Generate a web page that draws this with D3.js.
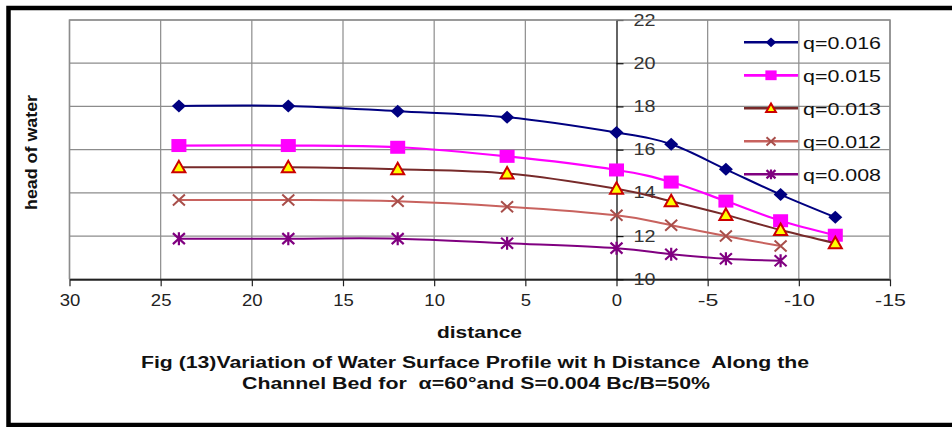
<!DOCTYPE html>
<html>
<head>
<meta charset="utf-8">
<script src="https://cdn.jsdelivr.net/npm/d3@7"></script>
<style>
  html, body { margin: 0; padding: 0; background: #fff; }
  svg { display: block; font-family: Arial, "Liberation Sans", sans-serif; }
  text { white-space: pre; }
</style>
</head>
<body>
<svg id="chart" width="952" height="427"></svg>
<script>
// ---- data ----
const distances = [24, 18, 12, 6, 0, -3, -6, -9, -12];
const seriesNames = ["q=0.016", "q=0.015", "q=0.013", "q=0.012", "q=0.008"];
const q016 = [18.02, 18.02, 17.78, 17.5, 16.79, 16.25, 15.09, 13.92, 12.87];
const q015 = [16.19, 16.19, 16.11, 15.69, 15.06, 14.5, 13.62, 12.71, 12.04];
const q013 = [15.18, 15.18, 15.09, 14.9, 14.19, 13.61, 12.98, 12.28, 11.67];
const q012 = [13.67, 13.67, 13.61, 13.36, 12.96, 12.5, 12.0, 11.54];
const q008 = [11.88, 11.88, 11.88, 11.67, 11.44, 11.16, 10.95, 10.86];
const xTicks = [30, 25, 20, 15, 10, 5, 0, -5, -10, -15];
const yTicks = [10, 12, 14, 16, 18, 20, 22];
const xLabel = "distance";
const yLabel = "head of water";
const titleLines = ["Fig (13)Variation of Water Surface Profile wit h Distance  Along the",
                    "Channel Bed for  \u03B1=60\u00B0and S=0.004 Bc/B=50%"];

const styles = [
  {line: "#000080", marker: "diamond", fill: "#000080", stroke: "#000080", lw: 2},
  {line: "#ff00ff", marker: "square", fill: "#ff00ff", stroke: "#ff00ff", lw: 2.2},
  {line: "#772a2a", marker: "triangle", fill: "#ffff00", stroke: "#cc0000", lw: 2},
  {line: "#c8625e", marker: "x", fill: "none", stroke: "#a84e4a", lw: 2},
  {line: "#800080", marker: "star", fill: "none", stroke: "#800080", lw: 2}
];
const allValues = [q016, q015, q013, q012, q008];

const svg = d3.select("#chart");
const pLeft = 69.5, pRight = 890, pTop = 20, pBottom = 279.3;
const x = d3.scaleLinear().domain([30, -15]).range([pLeft, pRight]);
const y = d3.scaleLinear().domain([10, 22]).range([pBottom, pTop]);

// outer frame
svg.append("rect").attr("x", 8.5).attr("y", 8).attr("width", 980).attr("height", 417)
  .attr("fill", "none").attr("stroke", "#000").attr("stroke-width", 4.5);

// grid
const grid = svg.append("g").attr("stroke", "#8c8c8c").attr("stroke-width", 1.2);
xTicks.filter(d => d !== 0).forEach(d => {
  grid.append("line").attr("x1", x(d)).attr("x2", x(d)).attr("y1", pTop).attr("y2", pBottom);
});
yTicks.forEach(d => {
  grid.append("line").attr("x1", pLeft).attr("x2", pRight).attr("y1", y(d)).attr("y2", y(d));
});

// x axis
const xAxis = svg.append("g").attr("transform", `translate(0,${pBottom})`)
  .call(d3.axisBottom(x).tickValues(xTicks).tickFormat(d => String(d))
    .tickSize(7).tickSizeOuter(0).tickPadding(5));
xAxis.select(".domain").attr("stroke", "#222").attr("stroke-width", 2);
xAxis.selectAll(".tick line").attr("stroke", "#222").attr("stroke-width", 1.2);
xAxis.selectAll(".tick text").attr("font-size", 16).attr("fill", "#222")
  .attr("font-family", "Arial, 'Liberation Sans', sans-serif")
  .attr("dy", "0.9em")
  .attr("textLength", d => String(d).length * 10.3)
  .attr("lengthAdjust", "spacingAndGlyphs");

// y axis at x=0
const yAxis = svg.append("g").attr("transform", `translate(${x(0)},0)`)
  .call(d3.axisRight(y).tickValues(yTicks).tickFormat(d => String(d))
    .tickSize(7).tickSizeOuter(0).tickPadding(10));
yAxis.select(".domain").attr("stroke", "#111").attr("stroke-width", 1.3);
yAxis.selectAll(".tick line").attr("stroke", "#111").attr("stroke-width", 1.2);
yAxis.selectAll(".tick text").attr("font-size", 16).attr("fill", "#333")
  .attr("font-family", "Arial, 'Liberation Sans', sans-serif")
  .attr("textLength", 22).attr("lengthAdjust", "spacingAndGlyphs");

// plot border (gray) top/left/right
svg.append("path")
  .attr("d", `M${pLeft},${pBottom}V${pTop}H${pRight}V${pBottom}`)
  .attr("fill", "none").attr("stroke", "#8c8c8c").attr("stroke-width", 1.5);

// marker drawing
function drawMarker(g, type, cx, cy, k, st) {
  if (type === "diamond") {
    g.append("path").attr("d", `M${cx},${cy - 6.5*k}L${cx + 7*k},${cy}L${cx},${cy + 6.5*k}L${cx - 7*k},${cy}Z`)
      .attr("fill", st.fill);
  } else if (type === "square") {
    g.append("rect").attr("x", cx - 7.5*k).attr("y", cy - 6.5*k).attr("width", 15*k).attr("height", 13*k)
      .attr("fill", st.fill);
  } else if (type === "triangle") {
    g.append("path").attr("d", `M${cx},${cy - 6.5*k}L${cx + 6.5*k},${cy + 5*k}L${cx - 6.5*k},${cy + 5*k}Z`)
      .attr("fill", st.fill).attr("stroke", st.stroke).attr("stroke-width", 2).attr("stroke-linejoin", "miter");
  } else if (type === "x") {
    g.append("path").attr("d", `M${cx - 6*k},${cy - 5.5*k}L${cx + 6*k},${cy + 5.5*k}M${cx + 6*k},${cy - 5.5*k}L${cx - 6*k},${cy + 5.5*k}`)
      .attr("stroke", st.stroke).attr("stroke-width", 2);
  } else if (type === "star") {
    g.append("path").attr("d", `M${cx - 6*k},${cy - 5.5*k}L${cx + 6*k},${cy + 5.5*k}M${cx + 6*k},${cy - 5.5*k}L${cx - 6*k},${cy + 5.5*k}M${cx},${cy - 6.5*k}L${cx},${cy + 6.5*k}`)
      .attr("stroke", st.stroke).attr("stroke-width", 2.2);
  }
}

// series
const line = d3.line().x(d => x(d[0])).y(d => y(d[1])).curve(d3.curveCatmullRom.alpha(0));
allValues.forEach((vals, i) => {
  const st = styles[i];
  const pts = vals.map((v, j) => [distances[j], v]);
  const g = svg.append("g");
  g.append("path").datum(pts).attr("d", line).attr("fill", "none")
    .attr("stroke", st.line).attr("stroke-width", st.lw);
  pts.forEach(p => drawMarker(g, st.marker, x(p[0]), y(p[1]), 1, st));
});

// legend
const legY0 = 42.3, legStep = 33;
seriesNames.forEach((name, i) => {
  const st = styles[i];
  const cy = legY0 + i * legStep;
  const g = svg.append("g");
  g.append("line").attr("x1", 744).attr("x2", 798).attr("y1", cy).attr("y2", cy)
    .attr("stroke", st.line).attr("stroke-width", st.lw + 0.6);
  drawMarker(g, st.marker, 771, cy, 0.75, st);
  g.append("text").attr("x", 803).attr("y", cy + 6.5).attr("font-size", 17).attr("fill", "#111")
    .attr("textLength", 78).attr("lengthAdjust", "spacingAndGlyphs").text(name);
});

// axis titles
svg.append("text").attr("x", 479.5).attr("y", 337.5).attr("text-anchor", "middle")
  .attr("font-size", 16.5).attr("font-weight", "bold").attr("fill", "#111")
  .attr("textLength", 85).attr("lengthAdjust", "spacingAndGlyphs").text(xLabel);
svg.append("text").attr("transform", "translate(36.5,152.5) rotate(-90)").attr("text-anchor", "middle")
  .attr("font-size", 16).attr("font-weight", "bold").attr("fill", "#111")
  .attr("textLength", 115).attr("lengthAdjust", "spacingAndGlyphs").text(yLabel);

// caption
svg.append("text").attr("x", 475).attr("y", 368).attr("text-anchor", "middle")
  .attr("font-size", 16).attr("font-weight", "bold").attr("fill", "#111")
  .attr("textLength", 668).attr("lengthAdjust", "spacingAndGlyphs").text(titleLines[0]);
svg.append("text").attr("x", 476).attr("y", 388.5).attr("text-anchor", "middle")
  .attr("font-size", 16).attr("font-weight", "bold").attr("fill", "#111")
  .attr("textLength", 468).attr("lengthAdjust", "spacingAndGlyphs").text(titleLines[1]);
</script>
</body>
</html>
